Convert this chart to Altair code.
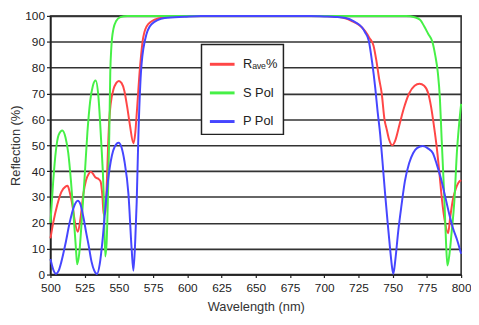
import altair as alt
import pandas as pd

# Rave% (red)
r_wl = [500, 502, 505, 508, 511, 512.5, 514, 516, 518, 520, 522, 524, 526, 528, 529.5, 531, 533, 535,
        536.6, 538, 538.9, 540, 541, 542, 543, 544, 546, 548, 550, 552, 554, 556, 558, 560.6, 562, 563,
        565.4, 567.8, 571.4, 578.6, 587, 595, 650, 700, 710, 716, 720, 724, 727, 730, 733, 736, 738,
        740, 742, 744, 745.7, 747.5, 749.7, 752, 755, 758, 762, 766, 769.6, 773, 776, 778, 780, 782,
        784, 786, 788, 790.5, 792, 794, 796, 798, 800]
r_val = [14, 20, 27, 32, 34, 34.3, 32, 27, 20, 16.5, 22, 31, 36.5, 39, 39.8, 39, 37.5, 37,
         36, 30, 23, 24, 33, 48, 60, 66, 71.5, 74, 74.8, 74, 71, 65, 58, 50.8, 55, 62,
         80, 91.8, 96.8, 99, 99.7, 100, 100, 100, 99.7, 99, 98, 97, 95.8, 94, 91.5, 88.5, 83,
         76, 70, 60, 56, 52, 50, 52, 58, 64, 70, 73, 73.8, 73, 70, 65, 58, 50,
         40, 29, 21, 16, 22, 29, 33, 35.5, 36.5]

# S Pol (green)
s_wl = [500, 502, 504, 506, 508.7, 511, 513, 515, 517, 518.5, 519.5, 521, 523, 525, 527, 529, 531,
        533, 535, 537, 538.9, 540, 541, 542, 543, 543.7, 544.5, 546, 548, 551, 556, 600, 700, 760,
        766, 770, 773, 776, 779, 781, 783, 784.5, 785.8, 787.7, 789, 790, 791.5, 793, 795, 797,
        798.5, 800]
s_val = [20, 36, 48, 54, 55.7, 53, 47, 36, 22, 11, 4, 8, 22, 38, 55, 67, 73,
         75, 69, 52, 31, 7, 12, 30, 55, 78, 88, 95, 98, 99.5, 100, 100, 100, 100,
         99.5, 98.5, 96, 93, 90, 85, 78, 68, 52, 30, 12, 3.5, 8, 16, 28, 48,
         58, 66]

# P Pol (blue)
p_wl = [500, 502, 504, 506, 508, 511, 514, 517, 520, 522, 524.5, 526, 528, 530, 532, 534, 536, 538,
        540, 542, 544.9, 547, 549.8, 552, 554, 557, 559.3, 560.6, 562, 563, 564.2, 566.1, 569,
        573.8, 583.4, 598, 610, 650, 690, 700, 708, 715.6, 722, 727.7, 730, 732.5, 735, 737.3, 739,
        740.9, 742.5, 744.5, 746.5, 748.1, 749.5, 750.5, 752, 754.1, 756.5, 758.9, 762, 765, 768,
        772, 776, 779.3, 782, 785.3, 788, 791.3, 794, 797.3, 800]
p_val = [6, 2, 0.3, 1.5, 5, 12, 20, 26, 28.5, 27, 21, 16.5, 11, 5, 1.5, 0.2, 4, 13,
         25, 36, 46, 49.5, 51, 49, 44, 31, 10, 1.5, 14, 28, 53, 78, 90.5,
         96.8, 99.2, 99.7, 100, 100, 100, 99.8, 99.6, 99.2, 97.8, 95.5, 93.5, 90.5, 82, 72, 63,
         54, 44, 31, 19, 10, 3, 0.3, 6, 17, 27, 36, 43, 47, 49,
         49.7, 48.7, 47, 43, 37, 31, 23.4, 18, 13, 8]

series_names = ["Rave%", "S Pol", "P Pol"]
series_colors = ["#ff4646", "#46f046", "#4646ff"]
x_ticks = list(range(500, 801, 25))
y_ticks = list(range(0, 101, 10))

rows = []
for name, wl, val in [("Rave%", r_wl, r_val), ("S Pol", s_wl, s_val), ("P Pol", p_wl, p_val)]:
    for w, v in zip(wl, val):
        rows.append({"series": name, "wl": w, "refl": v})
df = pd.DataFrame(rows)

FONT = "Liberation Sans"

color = alt.Color(
    "series:N",
    scale=alt.Scale(domain=series_names, range=series_colors),
    legend=alt.Legend(
        title=None, orient="none", legendX=153, legendY=29, direction="vertical",
        symbolType="stroke", symbolSize=625, symbolStrokeWidth=3,
        labelFont=FONT, labelFontSize=13, labelColor="#222",
        fillColor="white", strokeColor="#222", padding=6, rowPadding=8,
        labelOffset=7, symbolOffset=1,
        labelExpr="datum.label == 'Rave%' ? 'R\u2090\u1d65\u2091%\u00a0\u00a0\u00a0\u00a0\u00a0' : datum.label + '\u00a0\u00a0\u00a0\u00a0\u00a0\u00a0\u00a0'",
    ),
)

base = alt.Chart(df).encode(
    x=alt.X("wl:Q", scale=alt.Scale(domain=[500, 800], nice=False, zero=False),
            axis=alt.Axis(values=x_ticks, format="d", title="Wavelength (nm)", grid=False,
                          labelFlush=False, labelOverlap=False,
                          tickSize=3, labelPadding=5, titlePadding=7)),
    y=alt.Y("refl:Q", scale=alt.Scale(domain=[0, 100], nice=False),
            axis=alt.Axis(values=y_ticks, format="d", title="Reflection (%)", grid=True,
                          labelFlush=False, labelOverlap=False,
                          tickSize=4, labelPadding=2, titlePadding=2)),
    color=color,
)

layers = [
    base.transform_filter(alt.datum.series == n).mark_line(strokeWidth=2, interpolate="monotone")
    for n in series_names
]

chart = alt.layer(*layers).properties(
    width=416, height=262,
    padding={"left": 43, "top": 6, "right": 10, "bottom": 42},
    autosize=alt.AutoSizeParams(type="none"),
).configure_view(
    stroke="#222", strokeWidth=1.5
).configure_axis(
    labelFont=FONT, labelFontSize=12, labelColor="#222",
    titleFont=FONT, titleFontSize=13, titleColor="#333", titleFontWeight="normal",
    domainColor="#222", domainWidth=1.5, tickColor="#222", tickWidth=1.2,
    gridColor="#333", gridWidth=1.6, gridOpacity=1,
).configure_legend(
    strokeWidth=1.5
)

chart.save("out.html", embed_options={"renderer": "svg", "actions": False})
